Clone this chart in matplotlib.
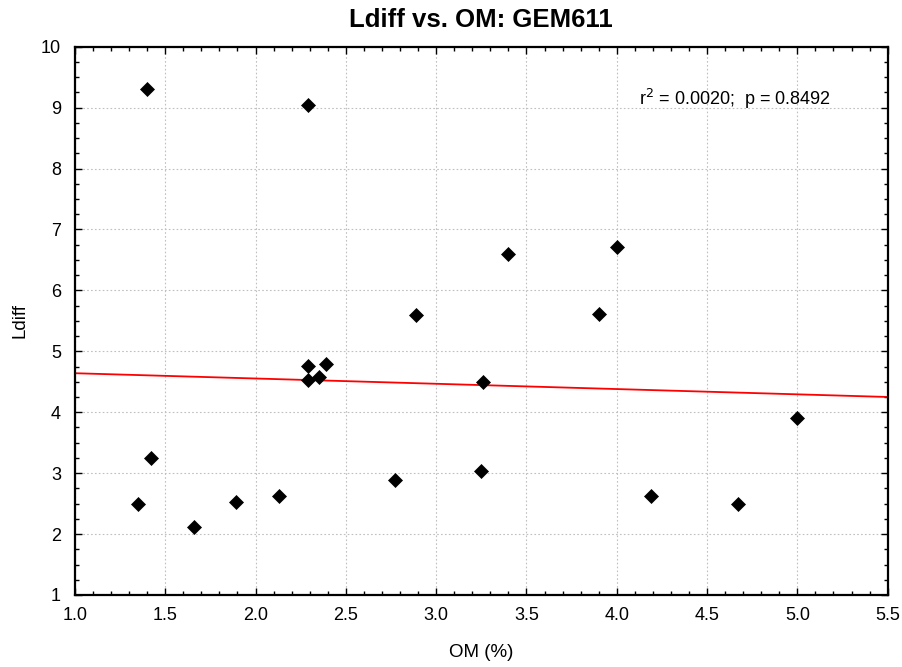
import numpy as np
import matplotlib
matplotlib.use("Agg")
import matplotlib.pyplot as plt
from matplotlib.ticker import MultipleLocator

plt.rcParams['font.family'] = ['Liberation Sans', 'DejaVu Sans']

om = [1.40, 2.29, 1.35, 1.42, 1.66, 1.89, 2.13, 2.29, 2.29, 2.35, 2.39,
      2.77, 2.89, 3.40, 4.00, 3.90, 3.26, 3.25, 4.19, 4.67, 5.00]
ldiff = [9.31, 9.04, 2.50, 3.25, 2.12, 2.53, 2.63, 4.76, 4.53, 4.57, 4.79,
         2.88, 5.59, 6.60, 6.71, 5.62, 4.50, 3.03, 2.63, 2.50, 3.91]
fit_x = [1.0, 5.5]
fit_y = [4.64, 4.25]
stat_text = "r$^2$ = 0.0020;  p = 0.8492"

fig = plt.figure(figsize=(9.03, 6.67), dpi=100)
ax = fig.add_axes([0.083, 0.108, 0.900, 0.822])

ax.plot(om, ldiff, linestyle='none', marker='D', markersize=7.5,
        color='black', markeredgewidth=0.5, zorder=3)
ax.plot(fit_x, fit_y, color='red', linewidth=1.3, zorder=2)

ax.set_xlim(1.0, 5.5)
ax.set_ylim(1, 10)
ax.xaxis.set_major_locator(MultipleLocator(0.5))
ax.xaxis.set_minor_locator(MultipleLocator(0.1))
ax.yaxis.set_major_locator(MultipleLocator(1))
ax.yaxis.set_minor_locator(MultipleLocator(0.25))
ax.xaxis.set_major_formatter(matplotlib.ticker.FormatStrFormatter('%.1f'))

ax.tick_params(which='both', direction='in', top=True, right=True,
               labelsize=13, width=1.0)
ax.tick_params(which='major', length=5)
ax.tick_params(axis='x', which='major', pad=9)
ax.tick_params(axis='y', which='major', pad=10)
ax.tick_params(which='minor', length=3)
for s in ax.spines.values():
    s.set_linewidth(1.6)

ax.grid(True, which='major', linestyle=(0, (1.5, 2)), color='#c0c0c0', linewidth=0.8)
ax.set_axisbelow(True)

ax.set_title("Ldiff vs. OM: GEM611", fontsize=18.5, fontweight='bold', pad=14)
ax.set_xlabel("OM (%)", fontsize=13.5, labelpad=14)
ax.set_ylabel("Ldiff", fontsize=13.5, labelpad=9)
ax.text(0.812, 0.905, stat_text, transform=ax.transAxes, ha='center',
        va='center', fontsize=13)

fig.savefig("out.png", dpi=100)
